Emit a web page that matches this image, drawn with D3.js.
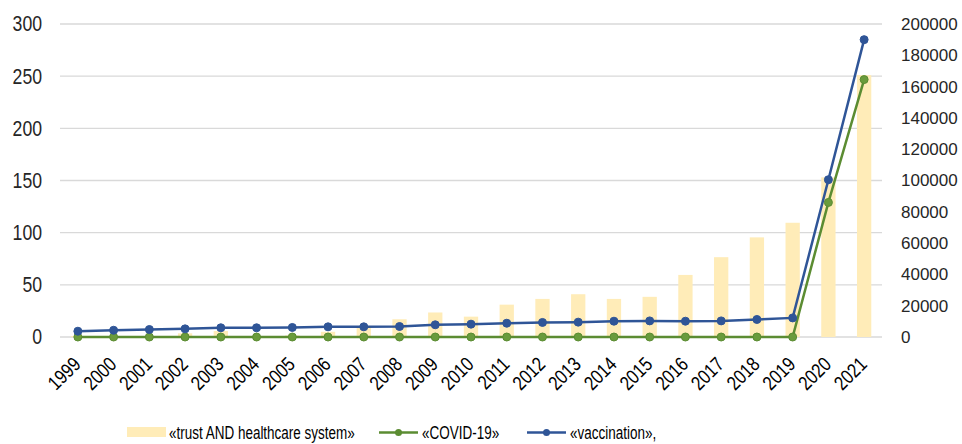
<!DOCTYPE html>
<html><head><meta charset="utf-8">
<script src="https://cdn.jsdelivr.net/npm/d3@7"></script>
<style>body{margin:0;background:#fff;} svg{display:block;}</style>
</head><body><svg id="c" width="962" height="444"></svg>
<script>
const years = ["1999","2000","2001","2002","2003","2004","2005","2006","2007","2008","2009","2010","2011","2012","2013","2014","2015","2016","2017","2018","2019","2020","2021"];
const trustValues = [1,0,0,3.5,5.7,0,1.5,5,10,17,23.5,19.5,31,36.5,41,36.5,38.5,59.5,76.5,95.5,109.5,153,251];
const covidValues = [0,0,0,0,0,0,0,0,0,0,0,0,0,0,0,0,0,0,0,0,0,86000,164500];
const vaccinationValues = [3700,4300,4800,5200,5900,5900,6100,6500,6500,6700,7800,8200,8800,9300,9500,10100,10300,10100,10300,11200,12200,100500,190000];
const leftTicks = [0,50,100,150,200,250,300];
const rightTicks = [0,20000,40000,60000,80000,100000,120000,140000,160000,180000,200000];
const legendLabels = ["«trust AND healthcare system»","«COVID-19»","«vaccination»,"];

const svg = d3.select("#c");
const L=60, R=882, T=24, B=337;
const font = "'Liberation Sans',Arial,sans-serif";
function narrow(sel, k){
  sel.each(function(){
    const w=this.getComputedTextLength();
    d3.select(this).attr("textLength", w*(k||0.82)).attr("lengthAdjust","spacingAndGlyphs");
  });
}
const x = d3.scaleBand().domain(years).range([L,R]).paddingInner(0.6).paddingOuter(0.3);
const xc = d => x(d)+x.bandwidth()/2;
const yL = d3.scaleLinear().domain([0,300]).range([B,T]);
const yR = d3.scaleLinear().domain([0,200000]).range([B,T]);

// gridlines
svg.append("g").selectAll("line").data(leftTicks).join("line")
  .attr("x1",L).attr("x2",R).attr("y1",d=>yL(d)).attr("y2",d=>yL(d))
  .attr("stroke","#d9d9d9").attr("stroke-width",1.3);

// bars
svg.append("g").selectAll("rect").data(trustValues).join("rect")
  .attr("x",(d,i)=>x(years[i])).attr("width",x.bandwidth())
  .attr("y",d=>yL(d)).attr("height",d=>B-yL(d))
  .attr("fill","#ffecb8");

// left axis
const la = svg.append("g").attr("transform",`translate(${L},0)`)
  .call(d3.axisLeft(yL).tickValues(leftTicks).tickSize(0).tickPadding(18));
la.select(".domain").remove();
la.selectAll("text").attr("font-family",font).attr("font-size",21.5).attr("fill","#262626").call(narrow);

// right axis
const ra = svg.append("g").attr("transform",`translate(${R},0)`)
  .call(d3.axisRight(yR).tickValues(rightTicks).tickSize(0).tickPadding(19).tickFormat(d3.format("d")));
ra.select(".domain").remove();
ra.selectAll("text").attr("font-family",font).attr("font-size",17).attr("fill","#262626");

// x axis
const xa = svg.append("g").attr("transform",`translate(0,${B})`)
  .call(d3.axisBottom(x).tickSize(0).tickPadding(0));
xa.select(".domain").remove();
xa.selectAll("text").attr("font-family",font).attr("font-size",20).attr("fill","#000")
  .attr("text-anchor","end").attr("dy",0).attr("y",0)
  .attr("transform","translate(4,28.5) rotate(-45)").call(narrow);

// lines
const series = [
  {vals:covidValues,color:"#5b8c32",fill:"#6a9b3c"},
  {vals:vaccinationValues,color:"#2f5597",fill:"#2f5597"}
];
series.forEach(s=>{
  const line = d3.line().x((d,i)=>xc(years[i])).y(d=>yR(d));
  svg.append("path").datum(s.vals).attr("d",line).attr("fill","none")
    .attr("stroke",s.color).attr("stroke-width",2.5);
  svg.append("g").selectAll("circle").data(s.vals).join("circle")
    .attr("cx",(d,i)=>xc(years[i])).attr("cy",d=>yR(d)).attr("r",4)
    .attr("fill",s.fill).attr("stroke",s.color).attr("stroke-width",1);
});

// legend
const lg = svg.append("g").attr("font-family",font).attr("font-size",17.5).attr("fill","#000");
lg.append("rect").attr("x",127).attr("y",427).attr("width",39).attr("height",10).attr("fill","#ffecb8");
lg.append("text").attr("x",169).attr("y",439).text(legendLabels[0]);
[[379,"#5b8c32",legendLabels[1]],[527,"#2f5597",legendLabels[2]]].forEach(([lx,c,t])=>{
  lg.append("line").attr("x1",lx).attr("x2",lx+39).attr("y1",432.5).attr("y2",432.5).attr("stroke",c).attr("stroke-width",2.5);
  lg.append("circle").attr("cx",lx+19.5).attr("cy",432.5).attr("r",3.5).attr("fill",c);
  lg.append("text").attr("x",lx+43).attr("y",439).text(t);
});
lg.selectAll("text").call(narrow, 0.77);
</script></body></html>
